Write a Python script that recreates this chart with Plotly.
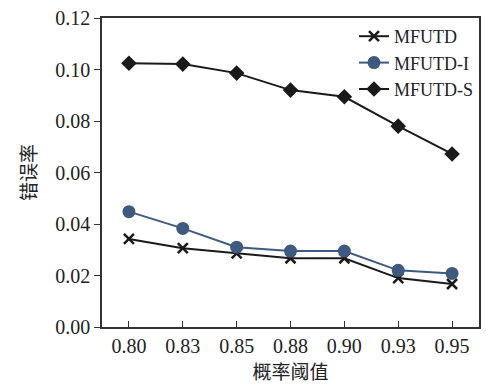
import plotly.graph_objects as go

thresholds = ["0.80", "0.83", "0.85", "0.88", "0.90", "0.93", "0.95"]
mfutd = [0.0342, 0.0306, 0.0286, 0.0267, 0.0267, 0.0190, 0.0167]
mfutd_i = [0.0448, 0.0383, 0.0310, 0.0295, 0.0295, 0.0220, 0.0208]
mfutd_s = [0.1024, 0.1021, 0.0986, 0.0920, 0.0894, 0.0780, 0.0672]
y_ticks = [0.00, 0.02, 0.04, 0.06, 0.08, 0.10, 0.12]

serif = "Liberation Serif, Times New Roman, serif"
cjk = "Noto Sans CJK SC"

fig = go.Figure()
fig.add_trace(go.Scatter(x=thresholds, y=mfutd, name="MFUTD", mode="lines+markers",
                         line=dict(color="#1a1a1a", width=2),
                         marker=dict(symbol="x-thin", size=10, line=dict(color="#1a1a1a", width=2.5))))
fig.add_trace(go.Scatter(x=thresholds, y=mfutd_i, name="MFUTD-I", mode="lines+markers",
                         line=dict(color="#3f5a80", width=2),
                         marker=dict(symbol="circle", size=13, color="#3f5a80")))
fig.add_trace(go.Scatter(x=thresholds, y=mfutd_s, name="MFUTD-S", mode="lines+markers",
                         line=dict(color="#1a1a1a", width=2),
                         marker=dict(symbol="diamond", size=12, color="#1a1a1a")))

fig.update_layout(
    width=486, height=384,
    margin=dict(l=102, r=5, t=18, b=57),
    paper_bgcolor="white", plot_bgcolor="white",
    font=dict(family=serif, size=20, color="#222"),
    showlegend=True,
    legend=dict(x=1, y=1.0, xanchor="right", yanchor="top", bgcolor="rgba(0,0,0,0)",
                font=dict(family=serif, size=18, color="#222"),
                tracegroupgap=0, itemwidth=30),
    xaxis=dict(type="category", range=[-0.5, 6.5], showgrid=False, zeroline=False,
               showline=True, linecolor="#333", linewidth=1.5, mirror=True,
               ticks="inside", ticklen=6, tickcolor="#333",
               tickfont=dict(family=serif, size=20),
               title=dict(text="概率阈值", font=dict(family=cjk, size=19), standoff=4)),
    yaxis=dict(range=[0, 0.12], tickvals=y_ticks, tickformat=".2f", showgrid=False, zeroline=False,
               showline=True, linecolor="#333", linewidth=1.5, mirror=True,
               ticks="outside", ticklen=6, tickcolor="#333",
               tickfont=dict(family=serif, size=20),
               title=dict(text="错误率", font=dict(family=cjk, size=19), standoff=14)),
)

fig.write_html("out.html", config={"displayModeBar": False},
               post_script="document.body.style.margin='0';document.body.style.overflow='hidden';")
